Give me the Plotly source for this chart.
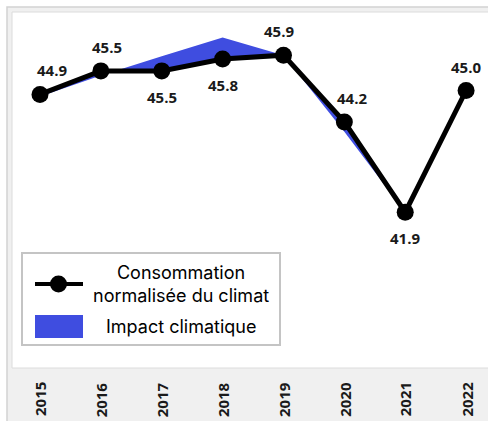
import plotly.graph_objects as go

# Annual consumption series
years = [2015, 2016, 2017, 2018, 2019, 2020, 2021, 2022]
normalised = [44.9, 45.5, 45.5, 45.8, 45.9, 44.2, 41.9, 45.0]   # climate-normalised consumption
actual = [44.85, 45.38, 45.87, 46.35, 45.9, 43.95, 41.9, 45.0]  # raw consumption (weather included)
year_labels = [str(y) for y in years]

# label placement per point
label_pos = ["top", "top", "bottom", "bottom", "top", "top", "bottom", "top"]
label_dx = [12, 6, 0, 0, -4, 8, 0, 0]

LINE_NAME = "Consommation<br>normalisée du climat"
FILL_NAME = "Impact climatique"
FILL_COLOR = "#3f4de0"

W, H = 488, 421
ML, MR, MT, MB = 12, 0, 12, 53
PW, PH = W - ML - MR, H - MT - MB

def px(x):
    return (x - ML) / PW

def py(y):
    return (H - MB - y) / PH

fig = go.Figure()

# Climate impact: area between the raw and the normalised curves
fig.add_trace(go.Scatter(
    x=years + years[::-1],
    y=actual + normalised[::-1],
    fill="toself",
    fillcolor=FILL_COLOR,
    line=dict(width=0, color=FILL_COLOR),
    mode="lines",
    name=FILL_NAME,
    hoverinfo="skip",
    showlegend=False,
))

# Normalised consumption line
fig.add_trace(go.Scatter(
    x=years, y=normalised,
    mode="lines+markers",
    line=dict(color="black", width=5),
    marker=dict(color="black", size=17),
    name=LINE_NAME,
    showlegend=False,
))

# value labels
for x, v, pos, dx in zip(years, normalised, label_pos, label_dx):
    fig.add_annotation(
        x=x, y=v, text=f"{v:.1f}", showarrow=False,
        xshift=dx, yshift=24 if pos == "top" else -26,
        font=dict(family="Open Sans", size=15, color="#1a1a1a", weight="bold"),
    )

# year labels under the plot area
for x, t in zip(years, year_labels):
    fig.add_annotation(
        x=x, y=py(380), yref="paper", text=t, showarrow=False,
        textangle=-90, yanchor="top", xanchor="center",
        font=dict(family="Open Sans", size=15, color="#1a1a1a", weight="bold"),
    )

def rect(x0, y0, x1, y1, **kw):
    return dict(type="rect", xref="paper", yref="paper",
                x0=px(x0), x1=px(x1), y0=py(y1), y1=py(y0), **kw)

shapes = [
    # outer frame
    rect(7, 7, W + 5, H + 5, fillcolor="#f0f0f0",
         line=dict(color="#d2d2d2", width=1.5), layer="below"),
    # white chart panel
    rect(12, 12, W + 5, 368, fillcolor="white",
         line=dict(color="#dcdcdc", width=1), layer="below"),
    # legend box
    rect(22, 253, 280, 345, fillcolor="white",
         line=dict(color="#c4c4c4", width=2), layer="above"),
    # legend key: line with marker
    dict(type="line", xref="paper", yref="paper",
         x0=px(35), x1=px(83), y0=py(284), y1=py(284),
         line=dict(color="black", width=4), layer="above"),
    dict(type="circle", xref="paper", yref="paper",
         x0=px(50), x1=px(67), y0=py(292.5), y1=py(275.5),
         fillcolor="black", line=dict(color="black", width=0), layer="above"),
    # legend key: fill swatch
    rect(35, 315, 83, 338, fillcolor=FILL_COLOR,
         line=dict(width=0), layer="above"),
]

# legend texts
for text, ycen in [(LINE_NAME, 284), (FILL_NAME, 326)]:
    fig.add_annotation(
        x=px(181), y=py(ycen), xref="paper", yref="paper",
        text=text, showarrow=False, align="center",
        xanchor="center", yanchor="middle",
        font=dict(family="Inter", size=18, color="black"),
    )

fig.update_layout(
    width=W, height=H,
    margin=dict(l=ML, r=MR, t=MT, b=MB),
    paper_bgcolor="white",
    plot_bgcolor="rgba(0,0,0,0)",
    shapes=shapes,
    showlegend=False,
    xaxis=dict(range=[2014.54, 2022.36], visible=False, fixedrange=True),
    yaxis=dict(range=[37.93, 47.0], visible=False, fixedrange=True),
)

fig.write_html("out.html")
